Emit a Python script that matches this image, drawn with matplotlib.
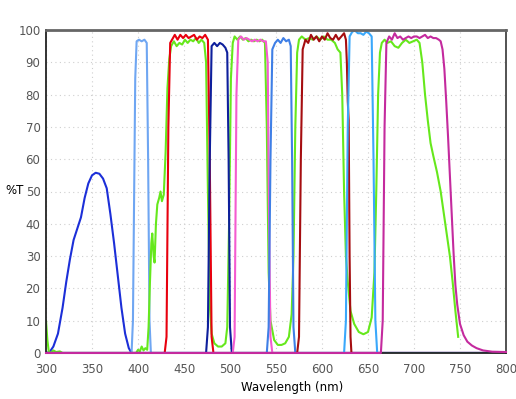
import matplotlib
matplotlib.use("Agg")
import matplotlib.pyplot as plt

# transmission curves (wavelength nm, %T)
uv_wl = [300, 304, 308, 313, 318, 322, 326, 330, 334, 338, 342, 346, 350, 354, 358,
         362, 366, 370, 374, 378, 382, 386, 390, 393, 800]
uv_t = [0, 0.3, 2, 6, 14, 22, 29, 35, 38.5, 42, 48, 52.5, 55, 55.8, 55.5,
        54, 51, 43, 34, 24, 14, 6, 1.5, 0, 0]

lb1_wl = [300, 393, 394.5, 396, 397, 398.5, 401, 404, 407, 409.5, 411, 412.5, 414, 800]
lb1_t = [0, 0, 10, 55, 85, 96.5, 97, 96.5, 97, 96, 60, 10, 0, 0]

red_wl = [300, 429, 431, 433, 435, 437, 440, 443, 446, 449, 452, 455, 458, 461, 464,
          467, 470, 473, 476, 478, 480, 482, 800]
red_t = [0, 0, 5, 70, 96, 97, 98.5, 97, 98.5, 97.5, 98.5, 97.5, 98, 98.5, 97,
         98, 97.5, 98.5, 97, 60, 5, 0, 0]

green_wl = [300, 301.5, 303, 305, 308, 311, 315, 318, 398, 400, 402, 404, 406, 408, 410,
            411.5, 413, 414.5, 415.5, 417, 418, 419.5, 421, 423, 424.5, 426, 428, 430, 432, 434,
            436, 439, 442, 445, 448, 451, 454, 457, 460, 463, 466, 469, 472, 474, 476,
            478, 480, 483, 487, 491, 495, 497, 499, 501, 503, 505, 508, 511, 514, 517,
            520, 523, 526, 529, 532, 535, 538, 540, 542, 544, 548, 552, 556, 560, 564,
            567, 569, 571, 573, 575, 578, 582, 586, 590, 594, 598, 602, 606, 610, 614,
            617, 620, 622, 624, 626, 628, 631, 635, 640, 645, 650, 654, 657, 659, 661,
            663, 665, 668, 671, 675, 679, 683, 687, 691, 695, 699, 703, 706, 709, 712,
            715, 718, 721, 725, 729, 733, 736, 739, 742, 745, 748]
green_t = [10, 4, 0.5, 0, 0.8, 0.3, 0.5, 0, 0, 1, 0.5, 2, 0.8, 1.5, 1,
           8, 22, 34, 37, 30, 28, 40, 46, 48, 50, 47, 49, 62, 82, 91,
           95, 96.5, 95, 96, 95.5, 97, 96, 97, 96.5, 97.5, 96, 97, 96, 90, 50,
           15, 6, 3, 2, 2, 3, 8, 40, 85, 96, 98, 97, 98, 97, 97.5,
           96.5, 97, 96.5, 97, 96.5, 97, 96, 70, 25, 10, 4, 2.5, 2.5, 3, 5,
           12, 30, 70, 93, 97, 98, 97, 97.5, 97, 98, 97, 98, 97, 97, 96,
           94, 93, 80, 50, 30, 22, 13, 9, 6.5, 5.8, 6.5, 11, 25, 50, 80,
           93, 96, 97, 96, 96.5, 95, 94.5, 96, 97, 96, 96.5, 97, 96, 90, 80,
           72, 65, 61, 56, 50, 42, 36, 30, 22, 13, 5]

navy_wl = [300, 474, 476, 478, 480, 483, 486, 489, 492, 495, 497, 498.5, 500, 502, 800]
navy_t = [0, 0, 8, 60, 95, 96, 95, 96, 95.5, 94.5, 93, 60, 8, 0, 0]

pink_wl = [300, 503, 505, 507, 509, 512, 515, 518, 521, 524, 527, 530, 533, 536, 539,
           541, 542.5, 544, 546, 800]
pink_t = [0, 0, 5, 80, 97, 98, 97, 97.5, 97, 96.5, 97, 96.5, 97, 96.5, 96.5,
          90, 40, 5, 0, 0]

lb2_wl = [300, 540, 542, 544, 546, 549, 552, 555, 558, 561, 564, 566, 567.5, 569, 571, 800]
lb2_t = [0, 0, 8, 60, 94, 96, 97, 96, 97.5, 96.5, 97, 95, 60, 8, 0, 0]

dred_wl = [300, 573, 575, 577, 579, 582, 585, 588, 591, 594, 597, 600, 603, 606, 609,
           612, 615, 618, 621, 624, 626, 627, 628, 629, 630, 631, 632, 800]
dred_t = [0, 0, 5, 60, 94, 97, 96, 98.5, 97, 98, 96.5, 98, 97, 99, 97.5,
          97, 98.5, 97, 98, 99, 97, 90, 78, 72, 30, 5, 0, 0]

lb3_wl = [300, 624, 626, 628, 630, 633, 636, 639, 642, 645, 648, 651, 654, 656, 658, 660, 800]
lb3_t = [0, 0, 10, 70, 98, 99.5, 99.8, 99, 99, 98.5, 99.5, 99, 98, 60, 10, 0, 0]

purple_wl = [300, 664, 666, 668, 670, 673, 676, 679, 682, 685, 688, 691, 694, 697, 700,
             703, 706, 709, 712, 715, 718, 721, 724, 727, 729, 731, 733, 735, 737, 739,
             741, 743, 745, 747, 750, 754, 758, 763, 768, 775, 785, 800]
purple_t = [0, 0, 10, 70, 96, 98, 97, 99, 97.5, 98, 97, 97.5, 98, 97.5, 98,
            98, 97.5, 98, 98.5, 97.5, 98, 97.5, 97.5, 97, 96.5, 94, 88, 78, 67, 55,
            43, 31, 21, 15, 9, 5.5, 3.5, 2.3, 1.5, 0.8, 0.4, 0.3]

x_ticks = [300, 350, 400, 450, 500, 550, 600, 650, 700, 750, 800]
y_ticks = [0, 10, 20, 30, 40, 50, 60, 70, 80, 90, 100]

fig = plt.figure(figsize=(5.16, 3.99), dpi=100)
ax = fig.add_axes([46 / 516, 1 - 353 / 399, 460 / 516, 323 / 399])

lw = 1.5
ax.plot(uv_wl, uv_t, color="#1c2fd8", lw=lw)
ax.plot(lb1_wl, lb1_t, color="#6fa6f2", lw=lw)
ax.plot(green_wl, green_t, color="#66e81c", lw=lw)
ax.plot(red_wl, red_t, color="#e8000e", lw=lw)
ax.plot(navy_wl, navy_t, color="#0e1f9c", lw=lw)
ax.plot(pink_wl, pink_t, color="#f45bd0", lw=lw)
ax.plot(lb2_wl, lb2_t, color="#3f7fe6", lw=lw)
ax.plot(dred_wl, dred_t, color="#a50d10", lw=lw)
ax.plot(lb3_wl, lb3_t, color="#3aa8fb", lw=lw)
# purple drawn unclipped and on top so it forms the thick baseline
ax.plot(purple_wl, purple_t, color="#c42a9e", lw=lw, clip_on=False, zorder=4)

ax.set_xlim(300, 800)
ax.set_ylim(0, 100)
ax.set_xticks(x_ticks)
ax.set_yticks(y_ticks)
ax.tick_params(length=0, labelsize=8.5, labelcolor="#555555")
ax.tick_params(axis="x", pad=7)
ax.tick_params(axis="y", pad=4)
ax.grid(True, color="#cfcfcf", linestyle=(0, (1, 3)), lw=0.8)

for side in ["left", "bottom"]:
    ax.spines[side].set_color("#222222")
    ax.spines[side].set_linewidth(1.3)
ax.spines["right"].set_color("#444444")
ax.spines["right"].set_linewidth(1.3)
ax.spines["top"].set_color("#666666")
ax.spines["top"].set_linewidth(2)

fig.text(5 / 516, 1 - 191 / 399, "%T", fontsize=8.5, va="center", ha="left")
fig.text(292 / 516, 1 - 388 / 399, "Wavelength (nm)", fontsize=8.5, va="center", ha="center")

plt.savefig("out.png", dpi=100)
plt.close()
